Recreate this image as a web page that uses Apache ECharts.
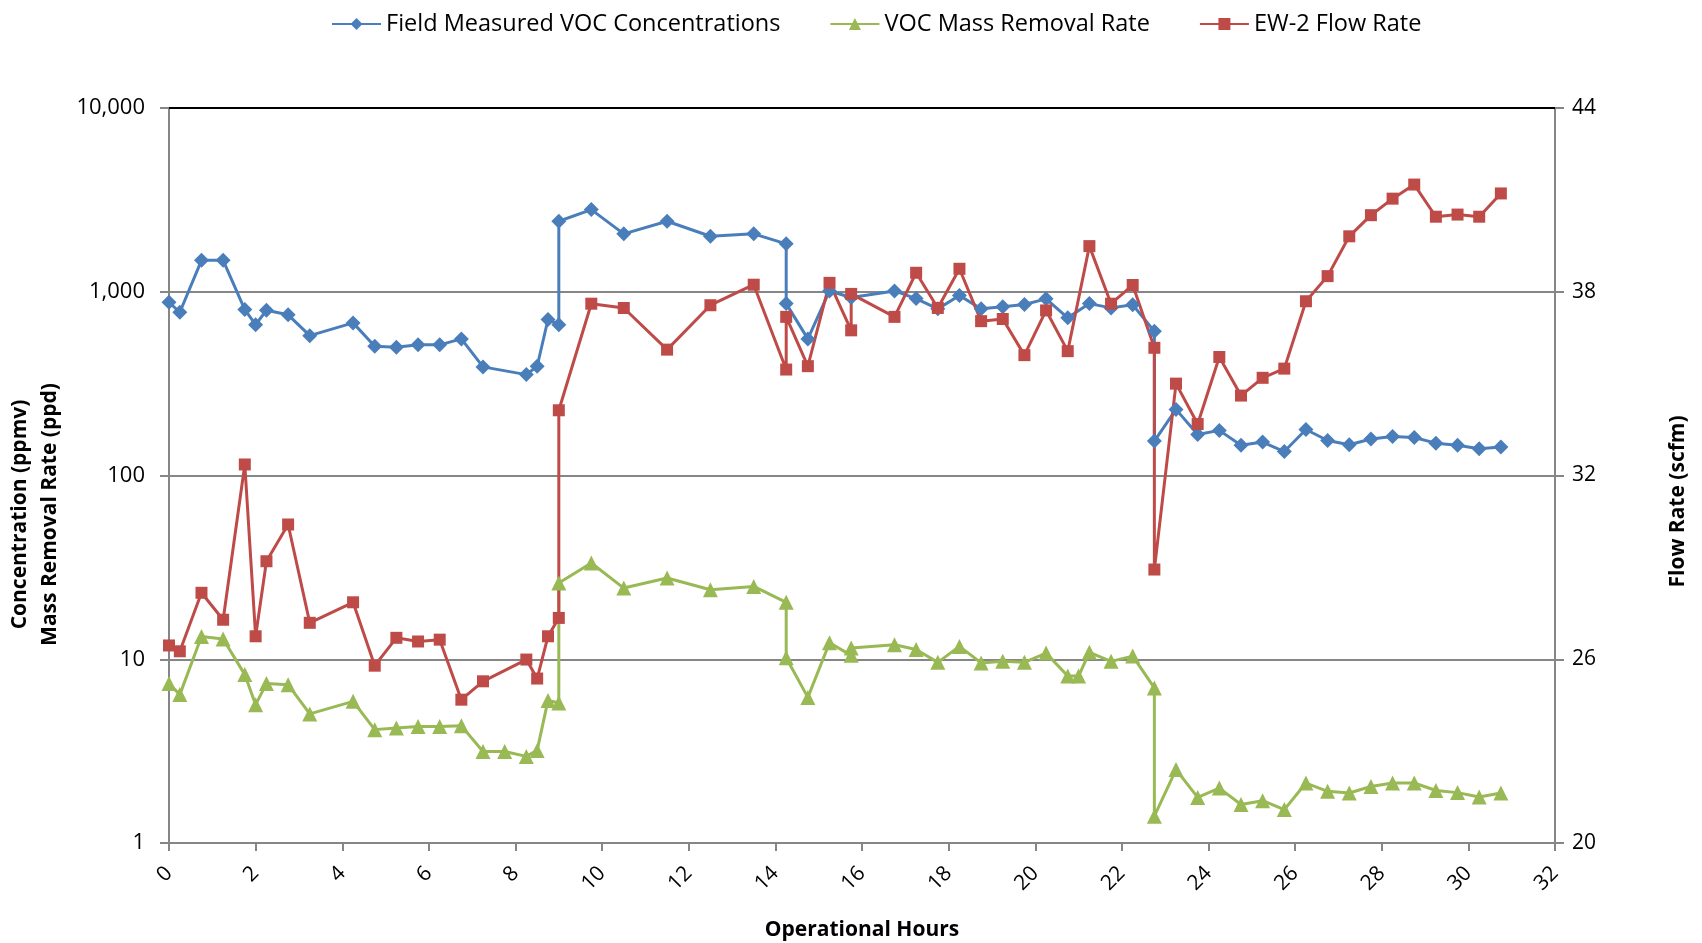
<!DOCTYPE html>
<html>
<head>
<meta charset="utf-8">
<title>EW-2 VOC Concentrations, Mass Removal Rate and Flow Rate</title>
<script src="https://cdn.jsdelivr.net/npm/echarts@6/dist/echarts.min.js"></script>
<style>
html, body { margin: 0; padding: 0; background: #fff; }
#chart { width: 1702px; height: 943px; }
</style>
</head>
<body>
<div id="chart"></div>
<script>
// Field Measured VOC Concentrations (ppmv)
var concHours = [0, 0.25, 0.75, 1.25, 1.75, 2, 2.25, 2.75, 3.25, 4.25, 4.75, 5.25, 5.75, 6.25, 6.75, 7.25,
    8.25, 8.5, 8.75, 9, 9, 9.75, 10.5, 11.5, 12.5, 13.5, 14.25, 14.25, 14.75, 15.25, 15.75, 16.75,
    17.25, 17.75, 18.25, 18.75, 19.25, 19.75, 20.25, 20.75, 21.25, 21.75, 22.25, 22.75, 22.75, 23.25,
    23.75, 24.25, 24.75, 25.25, 25.75, 26.25, 26.75, 27.25, 27.75, 28.25, 28.75, 29.25, 29.75, 30.25, 30.75];
var concPpmv = [877, 773, 1483, 1483, 800, 662, 793, 749, 577, 677, 505, 499, 514, 514, 554, 390,
    354, 393, 706, 662, 2420, 2800, 2066, 2420, 2005, 2066, 1823, 862, 554, 1010, 930, 1010,
    918, 807, 953, 807, 828, 852, 915, 721, 862, 817, 849, 609, 154, 229,
    167, 176, 146, 152, 135, 178, 155, 147, 158, 163, 161, 150, 146, 140, 143];

// VOC Mass Removal Rate (ppd)
var massHours = [0, 0.25, 0.75, 1.25, 1.75, 2, 2.25, 2.75, 3.25, 4.25, 4.75, 5.25, 5.75, 6.25, 6.75, 7.25, 7.75,
    8.25, 8.5, 8.75, 9, 9, 9.75, 10.5, 11.5, 12.5, 13.5, 14.25, 14.25, 14.75, 15.25, 15.75, 15.75, 16.75,
    17.25, 17.75, 18.25, 18.75, 19.25, 19.75, 20.25, 20.75, 21, 21.25, 21.75, 22.25, 22.75, 22.75, 23.25,
    23.75, 24.25, 24.75, 25.25, 25.75, 26.25, 26.75, 27.25, 27.75, 28.25, 28.75, 29.25, 29.75, 30.25, 30.75];
var massPpd = [7.37, 6.42, 13.3, 12.9, 8.25, 5.66, 7.37, 7.27, 5.04, 5.9, 4.14, 4.23, 4.31, 4.31, 4.34, 3.15, 3.15,
    2.96, 3.19, 5.97, 5.78, 26, 33.4, 24.4, 27.7, 23.9, 24.9, 20.4, 10.2, 6.2, 12.3, 10.5, 11.5, 12.0,
    11.3, 9.62, 11.75, 9.55, 9.74, 9.62, 10.8, 8.1, 8.1, 10.9, 9.74, 10.4, 6.98, 1.4, 2.51,
    1.77, 1.99, 1.62, 1.7, 1.52, 2.12, 1.91, 1.87, 2.03, 2.12, 2.12, 1.93, 1.88, 1.78, 1.87];

// EW-2 Flow Rate (scfm)
var flowHours = [0, 0.25, 0.75, 1.25, 1.75, 2, 2.25, 2.75, 3.25, 4.25, 4.75, 5.25, 5.75, 6.25, 6.75, 7.25,
    8.25, 8.5, 8.75, 9, 9, 9.75, 10.5, 11.5, 12.5, 13.5, 14.25, 14.25, 14.75, 15.25, 15.75, 15.75, 16.75,
    17.25, 17.75, 18.25, 18.75, 19.25, 19.75, 20.25, 20.75, 21.25, 21.75, 22.25, 22.75, 22.75, 23.25,
    23.75, 24.25, 24.75, 25.25, 25.75, 26.25, 26.75, 27.25, 27.75, 28.25, 28.75, 29.25, 29.75, 30.25, 30.75];
var flowScfm = [26.45, 26.26, 28.17, 27.29, 32.36, 26.75, 29.2, 30.4, 27.19, 27.86, 25.79, 26.7, 26.58, 26.64, 24.68, 25.28,
    25.99, 25.37, 26.75, 27.35, 34.13, 37.61, 37.47, 36.11, 37.56, 38.23, 35.46, 37.18, 35.57, 38.29, 36.74, 37.93, 37.18,
    38.62, 37.47, 38.75, 37.04, 37.11, 35.93, 37.39, 36.06, 39.49, 37.61, 38.22, 36.17, 28.93, 35.0,
    33.68, 35.87, 34.61, 35.19, 35.49, 37.69, 38.51, 39.81, 40.5, 41.04, 41.5, 40.45, 40.52, 40.45, 41.21];

var flowTicks = [20, 26, 32, 38, 44];

var FUENTE = 'Open Sans';
var GRIS = '#868686';

function pares(horas, valores) {
    return horas.map(function (h, i) { return [h, valores[i]]; });
}

function serie(nombre, horas, valores, color, simbolo, tam, eje) {
    return {
        name: nombre,
        type: 'line',
        yAxisIndex: eje,
        data: pares(horas, valores),
        symbol: simbolo,
        symbolSize: tam,
        showAllSymbol: true,
        lineStyle: { color: color, width: 3 },
        itemStyle: { color: color },
        animation: false
    };
}

var chart = echarts.init(document.getElementById('chart'));
chart.setOption({
    backgroundColor: '#fff',
    textStyle: { fontFamily: FUENTE },
    legend: {
        top: 7,
        left: 326,
        itemWidth: 49,
        itemHeight: 15,
        itemGap: 49,
        textStyle: { fontFamily: FUENTE, fontSize: 23.5, color: '#000' },
        data: ['Field Measured VOC Concentrations', 'VOC Mass Removal Rate', 'EW-2 Flow Rate']
    },
    grid: {
        left: 169,
        right: 147,
        top: 108,
        bottom: 100,
        containLabel: false,
        outerBoundsMode: 'none'
    },
    xAxis: [{
        type: 'value',
        min: 0,
        max: 32,
        interval: 2,
        name: 'Operational Hours',
        nameLocation: 'middle',
        nameGap: 77,
        nameTextStyle: { fontFamily: FUENTE, fontSize: 21, fontWeight: 'bold', color: '#000' },
        axisLine: { show: true, onZero: false, lineStyle: { color: GRIS, width: 2 } },
        axisTick: { show: true, inside: false, length: 8, lineStyle: { color: GRIS, width: 2 } },
        axisLabel: { rotate: 45, margin: 27, fontFamily: FUENTE, fontSize: 21, color: '#000' },
        splitLine: { show: false }
    }, {
        // black frame line along the top of the plot
        type: 'value',
        position: 'top',
        min: 0,
        max: 32,
        axisLine: { show: true, onZero: false, lineStyle: { color: '#000', width: 2 } },
        axisTick: { show: false },
        axisLabel: { show: false },
        splitLine: { show: false }
    }],
    yAxis: [{
        type: 'log',
        logBase: 10,
        min: 1,
        max: 10000,
        position: 'left',
        name: 'Concentration (ppmv)\nMass Removal Rate (ppd)',
        nameLocation: 'middle',
        nameRotate: 90,
        nameGap: 97,
        nameTextStyle: {
            fontFamily: FUENTE, fontSize: 21, fontWeight: 'bold', color: '#000',
            lineHeight: 30, padding: [0, 78, 0, 0]
        },
        axisLine: { show: true, onZero: false, lineStyle: { color: GRIS, width: 2 } },
        axisTick: { show: true, inside: false, length: 9, lineStyle: { color: GRIS, width: 2 } },
        axisLabel: {
            margin: 24, fontFamily: FUENTE, fontSize: 22, color: '#000',
            formatter: function (v) { return Number(v).toLocaleString('en-US'); }
        },
        splitLine: { show: true, lineStyle: { color: GRIS, width: 2 } },
        minorSplitLine: { show: false }
    }, {
        type: 'value',
        min: 20,
        max: 44,
        position: 'right',
        name: 'Flow Rate (scfm)',
        nameLocation: 'middle',
        nameRotate: 90,
        nameGap: 113,
        nameTextStyle: {
            fontFamily: FUENTE, fontSize: 21, fontWeight: 'bold', color: '#000',
            padding: [0, 52, 0, 0]
        },
        axisLine: { show: true, onZero: false, lineStyle: { color: GRIS, width: 2 } },
        axisTick: { show: true, inside: false, length: 9, customValues: flowTicks, lineStyle: { color: GRIS, width: 2 } },
        axisLabel: { margin: 17, fontFamily: FUENTE, fontSize: 21, color: '#000', customValues: flowTicks },
        splitLine: { show: false }
    }],
    series: [
        serie('Field Measured VOC Concentrations', concHours, concPpmv, '#4A7EBB', 'diamond', 15, 0),
        serie('VOC Mass Removal Rate', massHours, massPpd, '#98B954', 'triangle', 15, 0),
        serie('EW-2 Flow Rate', flowHours, flowScfm, '#BE4B48', 'rect', 12, 1)
    ]
});
</script>
</body>
</html>
